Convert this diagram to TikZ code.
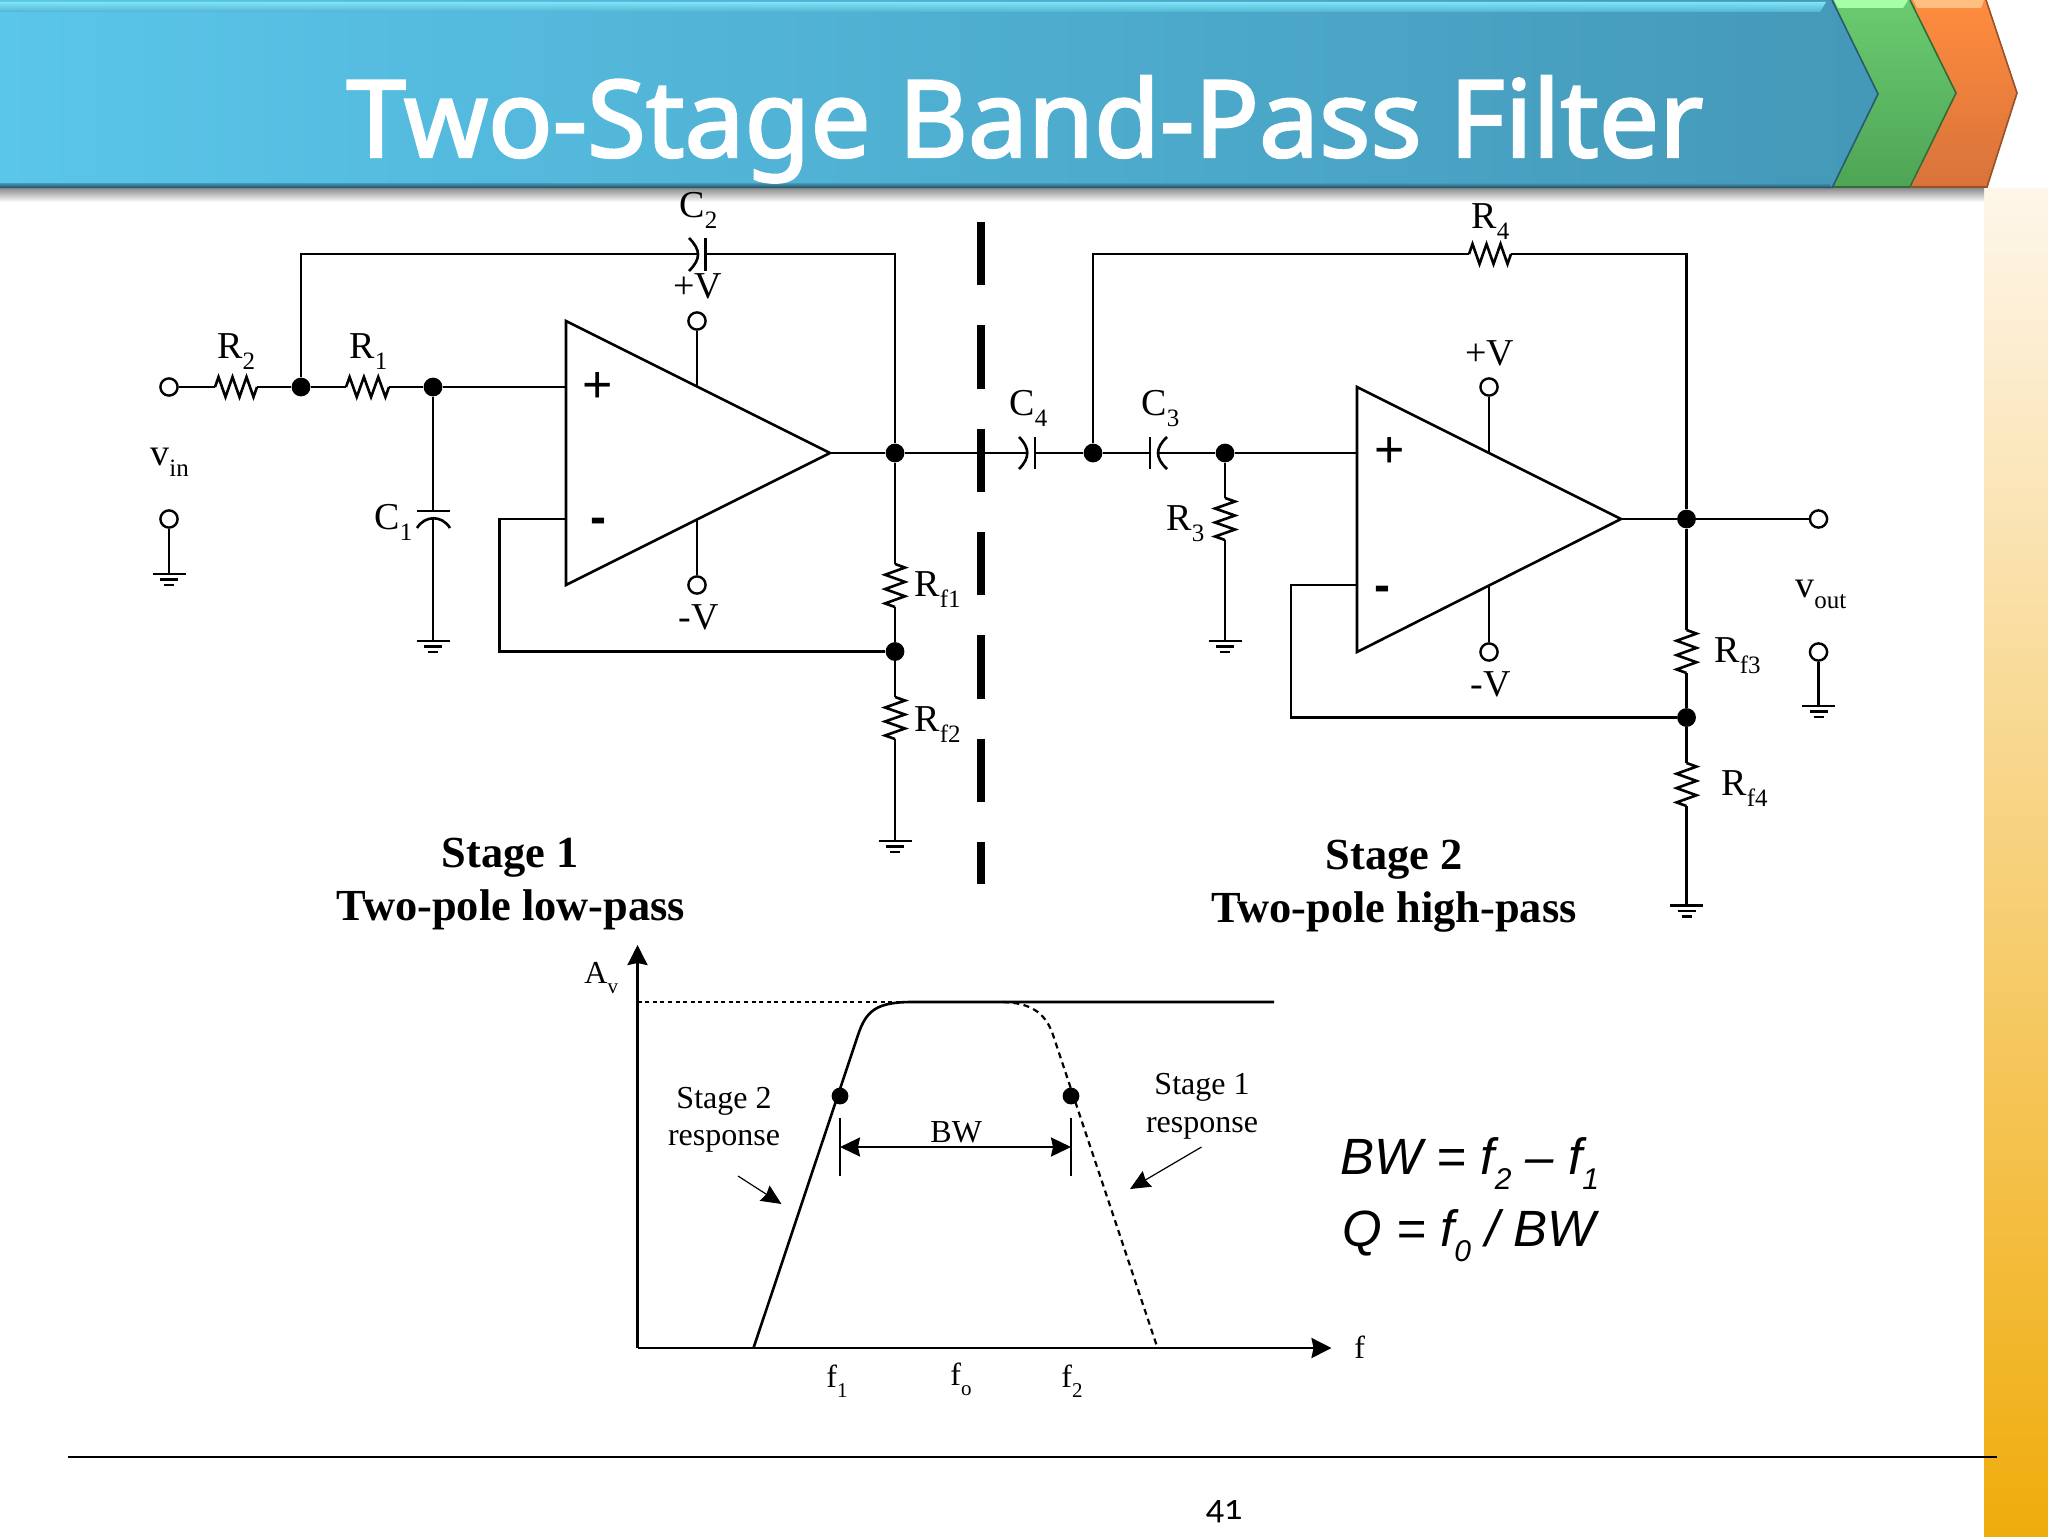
\documentclass[tikz,border=0pt]{standalone}
\usepackage{fontspec}
\setmainfont{Liberation Serif}
\newfontfamily\titlefont[FakeBold=2.2]{Noto Sans}
\newfontfamily\eqfont{Liberation Sans}
\newfontfamily\pagefont[Numbers=OldStyle]{Carlito}
\usetikzlibrary{calc,arrows.meta}
\definecolor{blueL}{HTML}{5AC6EA}
\definecolor{blueM}{HTML}{53B4D5}
\definecolor{blueR}{HTML}{4498B8}
\definecolor{greenT}{HTML}{6BCB70}
\definecolor{greenB}{HTML}{4EA555}
\definecolor{orangeT}{HTML}{FF8C3E}
\definecolor{orangeB}{HTML}{D8733A}
\definecolor{bandT}{HTML}{FEF6EA}
\definecolor{bandM}{HTML}{F9DC94}
\definecolor{bandB}{HTML}{F0AC0C}
\definecolor{hiBlue}{HTML}{7FE4F5}
\newcommand\sbs[1]{\raisebox{-5.5pt}{\fontsize{12.5}{12}\selectfont #1}}
\newcommand\gsb[1]{\raisebox{-5pt}{\fontsize{10.5}{11}\selectfont #1}}
\newcommand\esb[1]{\raisebox{-7.5pt}{\fontsize{15}{15}\selectfont\itshape #1}}
\tikzset{
  wire/.style={line width=1.3pt,line join=miter},
  dot/.style={circle,fill=black,draw=none,inner sep=0pt,minimum size=9.4pt},
  term/.style={circle,fill=white,draw=black,line width=1.2pt,inner sep=0pt,minimum size=8.6pt},
  lab/.style={anchor=base west,inner sep=0pt,font=\fontsize{19}{20}\selectfont},
  glab/.style={anchor=base west,inner sep=0pt,font=\fontsize{16}{18}\selectfont},
  gtxt/.style={anchor=base,inner sep=0pt,font=\fontsize{16}{18}\selectfont},
  stagetxt/.style={anchor=base,inner sep=0pt,font=\fontsize{22.2}{24}\selectfont\bfseries},
  eq/.style={anchor=base west,inner sep=0pt,font=\fontsize{25.5}{26}\selectfont\eqfont\itshape},
  plussign/.style={inner sep=0pt,font=\fontsize{26}{26}\selectfont\eqfont},
  minussign/.style={inner sep=0pt,font=\fontsize{24}{24}\selectfont\eqfont\bfseries},
  ax/.style={line width=1.3pt,-{Stealth[length=10pt,width=10pt,inset=1pt]}},
}
\newcommand\resist[2]{\draw[wire] (#1)
  -- ($(#1)!.0833!(#2)!5pt!90:(#2)$) -- ($(#1)!.25!(#2)!5pt!-90:(#2)$)
  -- ($(#1)!.4167!(#2)!5pt!90:(#2)$) -- ($(#1)!.5833!(#2)!5pt!-90:(#2)$)
  -- ($(#1)!.75!(#2)!5pt!90:(#2)$) -- ($(#1)!.9167!(#2)!5pt!-90:(#2)$) -- (#2);}
\newcommand\gnd[1]{\draw[wire]
  ($(#1)+(-16.5,0)$) -- ($(#1)+(16.5,0)$)
  ($(#1)+(-9,5.5)$) -- ($(#1)+(9,5.5)$)
  ($(#1)+(-5,11)$) -- ($(#1)+(5,11)$);}
\begin{document}
\begin{tikzpicture}[x=.5pt,y=-.5pt]
\path[use as bounding box] (0,0) rectangle (2048,1536);
\fill[white] (0,0) rectangle (2048,1536);
% side band
\shade[top color=bandT,middle color=bandM,bottom color=bandB] (1984,188) rectangle (2048,1536);
% shadow
\shade[top color=black!45,bottom color=white] (0,188) rectangle (1984,202);
% banner
\shade[top color=orangeT,bottom color=orangeB]
  (1911,0) -- (1986,0) -- (2017,93) -- (1987,187) -- (1911,187) -- (1956,93) -- cycle;
\draw[orangeB!70!black,line width=.8pt] (1986,0) -- (2017,93) -- (1987,187) -- (1911,187);
\shade[top color=greenT,bottom color=greenB]
  (1832,0) -- (1910,0) -- (1956,93) -- (1910,187) -- (1832,187) -- (1878,94) -- cycle;
\draw[greenB!65!black,line width=.8pt] (1910,0) -- (1956,93) -- (1910,187) -- (1832,187);
\shade[left color=blueL,middle color=blueM,right color=blueR]
  (0,0) -- (1832,0) -- (1878,94) -- (1832,188) -- (0,188) -- cycle;
\draw[blueR!60!black,line width=.8pt] (1832,0) -- (1878,94) -- (1832,188);
\shade[top color=hiBlue,bottom color=blueM]
  (0,2) -- (1826,2) -- (1820,12) -- (0,12) -- cycle;
\fill[green!35!white] (1834,0) -- (1908,0) -- (1903,8) -- (1838,8) -- cycle;
\fill[orange!50!white] (1913,0) -- (1984,0) -- (1981,8) -- (1917,8) -- cycle;
\shade[top color=blueR,bottom color=black!50!blueR] (0,183) -- (1829,183) -- (1832,188) -- (0,188) -- cycle;
\node[anchor=base west,inner sep=0pt,text=white,font=\fontsize{53.5}{54}\selectfont\titlefont] (title) at (346,157) {Two-Stage Band-Pass Filter};

% bottom rule and page number
\coordinate (ruleL) at (68,1457); \coordinate (ruleR) at (1997,1457);
\draw[line width=1.2pt] (ruleL) -- (ruleR);
\node[inner sep=0pt,font=\fontsize{18}{18}\selectfont\pagefont] (pagenum) at (1224,1512) {41};

% stage separator
\coordinate (sepT) at (981,222); \coordinate (sepB) at (981,884);
\draw[line width=4pt,dash pattern=on 31.65pt off 20pt] (sepT) -- (sepB);

%%% Stage 1
\node[term] (vin) at (169,387) {};
\node[term] (vinb) at (169,519) {};
\coordinate (gvin) at (169,574);
\draw[wire] (vinb) -- (gvin); \gnd{gvin}
\coordinate (r2a) at (215,387); \coordinate (r2b) at (257,387);
\node[dot] (n1) at (301,387) {};
\coordinate (r1a) at (346,387); \coordinate (r1b) at (389,387);
\node[dot] (n2) at (433,387) {};
\coordinate (oa) at (566,321); \coordinate (ob) at (566,585); \coordinate (oc) at (830,453);
\draw[wire] (oa) -- (oc) -- (ob) -- cycle;
\coordinate (inp) at (566,387); \coordinate (inm) at (566,519);
\draw[wire] (vin) -- (r2a); \resist{r2a}{r2b} \draw[wire] (r2b) -- (n1) -- (r1a);
\resist{r1a}{r1b} \draw[wire] (r1b) -- (n2) -- (inp);
% C1
\coordinate (c1p) at (433,511); \coordinate (c1a) at (433,518); \coordinate (g1) at (433,641);
\coordinate (c1l) at (417,511); \coordinate (c1r) at (450,511);
\coordinate (c1cl) at (417,528); \coordinate (c1cr) at (450,528);
\draw[wire] (n2) -- (c1p) (c1l) -- (c1r);
\draw[wire] (c1cl) .. controls (425,515) and (442,515) .. (c1cr);
\draw[wire] (c1a) -- (g1); \gnd{g1}
% C2
\coordinate (t1) at (301,254); \coordinate (c2a) at (698,254); \coordinate (c2p) at (705.5,254); \coordinate (t2) at (895,254);
\coordinate (c2u) at (689,238); \coordinate (c2d) at (689,271); \coordinate (c2pu) at (705.5,238); \coordinate (c2pd) at (705.5,271);
\draw[wire] (n1) -- (t1) -- (c2a);
\draw[wire] (c2u) .. controls (701,250) and (701,259) .. (c2d);
\draw[wire] (c2pu) -- (c2pd);
\node[dot] (n3) at (895,453) {};
\draw[wire] (c2p) -- (t2) -- (n3);
\draw[wire] (oc) -- (n3);
% supplies
\node[term] (vp1) at (697,321) {}; \coordinate (vp1e) at (697,387);
\node[term] (vm1) at (697,585) {}; \coordinate (vm1e) at (697,519);
\draw[wire] (vp1) -- (vp1e); \draw[wire] (vm1) -- (vm1e);
% feedback
\node[dot] (n4) at (895,651.5) {};
\coordinate (rf1a) at (895,564); \coordinate (rf1b) at (895,607);
\coordinate (rf2a) at (895,697); \coordinate (rf2b) at (895,739);
\coordinate (g2) at (895,841);
\draw[wire] (n3) -- (rf1a); \resist{rf1a}{rf1b} \draw[wire] (rf1b) -- (n4) -- (rf2a);
\resist{rf2a}{rf2b} \draw[wire] (rf2b) -- (g2); \gnd{g2}
\coordinate (fb1a) at (499.5,519); \coordinate (fb1b) at (499.5,651.5);
\draw[wire] (inm) -- (fb1a) -- (fb1b) -- (n4);
\node[plussign] (pl1) at (598,387) {+};
\node[minussign] (mi1) at (598,526) {-};
\node[lab] (lr2) at (217,358) {R\sbs{2}};
\node[lab] (lr1) at (349,358) {R\sbs{1}};
\node[lab] (lc1) at (374,529) {C\sbs{1}};
\node[lab] (lc2) at (679,217) {C\sbs{2}};
\node[lab] (lvp1) at (673,298) {+V};
\node[lab] (lvm1) at (678,629) {-V};
\node[lab] (lvin) at (150,465) {v\sbs{in}};
\node[lab] (lrf1) at (914,596) {R\sbs{f1}};
\node[lab] (lrf2) at (914,731) {R\sbs{f2}};
\node[stagetxt] (s1a) at (510,867) {Stage 1};
\node[stagetxt] (s1b) at (511,920) {Two-pole low-pass};

%%% Stage 2
\coordinate (c4w) at (1027,453); \coordinate (c4p) at (1035,453);
\coordinate (c4u) at (1019,437); \coordinate (c4d) at (1019,469);
\coordinate (c4pu) at (1035,437); \coordinate (c4pd) at (1035,469);
\node[dot] (n5) at (1093,453) {};
\draw[wire] (n3) -- (c4w);
\draw[wire] (c4u) .. controls (1030,448) and (1030,458) .. (c4d);
\draw[wire] (c4pu) -- (c4pd);
\draw[wire] (c4p) -- (n5);
\coordinate (c3p) at (1150,453); \coordinate (c3a) at (1158,453);
\coordinate (c3pu) at (1150,437); \coordinate (c3pd) at (1150,469);
\coordinate (c3u) at (1167,437); \coordinate (c3d) at (1167,469);
\node[dot] (n6) at (1225,453) {};
\draw[wire] (n5) -- (c3p); \draw[wire] (c3pu) -- (c3pd);
\draw[wire] (c3u) .. controls (1155,448) and (1155,458) .. (c3d);
\draw[wire] (c3a) -- (n6);
\coordinate (pa) at (1357,387); \coordinate (pb) at (1357,652); \coordinate (pc) at (1621,519);
\draw[wire] (pa) -- (pc) -- (pb) -- cycle;
\coordinate (inp2) at (1357,453); \coordinate (inm2) at (1357,585);
\draw[wire] (n6) -- (inp2);
\coordinate (r3a) at (1225,498); \coordinate (r3b) at (1225,540); \coordinate (g3) at (1225,641);
\draw[wire] (n6) -- (r3a); \resist{r3a}{r3b} \draw[wire] (r3b) -- (g3); \gnd{g3}
% R4
\coordinate (t3) at (1093,254); \coordinate (r4a) at (1469,254); \coordinate (r4b) at (1511,254); \coordinate (t4) at (1686.5,254);
\node[dot] (n7) at (1686.5,519) {};
\draw[wire] (n5) -- (t3) -- (r4a); \resist{r4a}{r4b} \draw[wire] (r4b) -- (t4) -- (n7);
\node[term] (vout) at (1818.5,519) {};
\draw[wire] (pc) -- (n7) -- (vout);
\node[term] (voutb) at (1818.5,652) {}; \coordinate (gout) at (1818.5,706);
\draw[wire] (voutb) -- (gout); \gnd{gout}
\node[term] (vp2) at (1489,387) {}; \coordinate (vp2e) at (1489,453);
\node[term] (vm2) at (1489,652) {}; \coordinate (vm2e) at (1489,585);
\draw[wire] (vp2) -- (vp2e); \draw[wire] (vm2) -- (vm2e);
\node[dot] (n8) at (1686.5,717.5) {};
\coordinate (rf3a) at (1686.5,630); \coordinate (rf3b) at (1686.5,673);
\coordinate (rf4a) at (1686.5,763); \coordinate (rf4b) at (1686.5,806);
\coordinate (g4) at (1686.5,905.5);
\draw[wire] (n7) -- (rf3a); \resist{rf3a}{rf3b} \draw[wire] (rf3b) -- (n8) -- (rf4a);
\resist{rf4a}{rf4b} \draw[wire] (rf4b) -- (g4); \gnd{g4}
\coordinate (fb2a) at (1291,585); \coordinate (fb2b) at (1291,717.5);
\draw[wire] (inm2) -- (fb2a) -- (fb2b) -- (n8);
\node[plussign] (pl2) at (1390,452) {+};
\node[minussign] (mi2) at (1382,594) {-};
\node[lab] (lc4) at (1009,415) {C\sbs{4}};
\node[lab] (lc3) at (1141,415) {C\sbs{3}};
\node[lab] (lr3) at (1166,530) {R\sbs{3}};
\node[lab] (lr4) at (1471,228) {R\sbs{4}};
\node[lab] (lvp2) at (1465,365) {+V};
\node[lab] (lvm2) at (1470,696) {-V};
\node[lab] (lrf3) at (1714,662) {R\sbs{f3}};
\node[lab] (lrf4) at (1721,795) {R\sbs{f4}};
\node[lab] (lvout) at (1795,597) {v\sbs{out}};
\node[stagetxt] (s2a) at (1394,869) {Stage 2};
\node[stagetxt] (s2b) at (1394,922) {Two-pole high-pass};

%%% Response graph
\coordinate (orig) at (637.5,1348); \coordinate (ytop) at (637.5,945); \coordinate (xend) at (1331.5,1348);
\draw[ax] (orig) -- (ytop);
\draw[ax] (orig) -- (xend);
\coordinate (lvl) at (637.5,1002); \coordinate (k1) at (912,1002); \coordinate (k2) at (1274,1002);
\coordinate (foot1) at (753.5,1348); \coordinate (q1) at (858,1035);
\coordinate (k3) at (1003,1002); \coordinate (q2) at (1052,1032); \coordinate (foot2) at (1157.5,1348);
\draw[line width=1.1pt,dash pattern=on 2pt off 1.8pt] (lvl) -- (k1);
\draw[wire,line join=round] (foot1) -- (q1) .. controls (866,1011) and (876,1002) .. (k1) -- (k2);
\draw[line width=1.1pt,dash pattern=on 3pt off 2.2pt] (k3) .. controls (1030,1003) and (1044,1012) .. (q2) -- (foot2);
\node[dot,minimum size=8.4pt] (d1) at (840,1096) {};
\node[dot,minimum size=8.4pt] (d2) at (1071,1096) {};
\coordinate (tk1a) at (840,1118); \coordinate (tk1b) at (840,1176);
\coordinate (tk2a) at (1071,1118); \coordinate (tk2b) at (1071,1176);
\coordinate (bwl) at (840,1147); \coordinate (bwr) at (1071,1147);
\draw[line width=1pt] (tk1a) -- (tk1b); \draw[line width=1pt] (tk2a) -- (tk2b);
\draw[line width=1.2pt,{Stealth[length=10pt,width=9.5pt,inset=1pt]}-{Stealth[length=10pt,width=9.5pt,inset=1pt]}] (bwl) -- (bwr);
\coordinate (a1s) at (738,1176); \coordinate (a1e) at (781.5,1204);
\coordinate (a2s) at (1201.5,1147); \coordinate (a2e) at (1130,1189);
\draw[line width=.6pt,-{Stealth[length=10pt,width=9pt,inset=1pt]}] (a1s) -- (a1e);
\draw[line width=.6pt,-{Stealth[length=10pt,width=9pt,inset=1pt]}] (a2s) -- (a2e);
\node[glab] (lav) at (584,983) {A\gsb{v}};
\node[glab] (lf) at (1354,1358) {f};
\node[glab] (lf1) at (826,1387) {f\gsb{1}};
\node[glab] (lf0) at (950,1385) {f\gsb{o}};
\node[glab] (lf2) at (1061,1387) {f\gsb{2}};
\node[glab] (lbw) at (930,1142) {BW};
\node[gtxt] (st2a) at (724,1108) {Stage 2};
\node[gtxt] (st2b) at (724,1145) {response};
\node[gtxt] (st1a) at (1202,1094) {Stage 1};
\node[gtxt] (st1b) at (1202,1132) {response};
\node[eq] (eq1) at (1340,1174) {BW = f\esb{2} – f\esb{1}};
\node[eq] (eq2) at (1342,1246) {Q = f\esb{0} / BW};
\end{tikzpicture}
\end{document}
